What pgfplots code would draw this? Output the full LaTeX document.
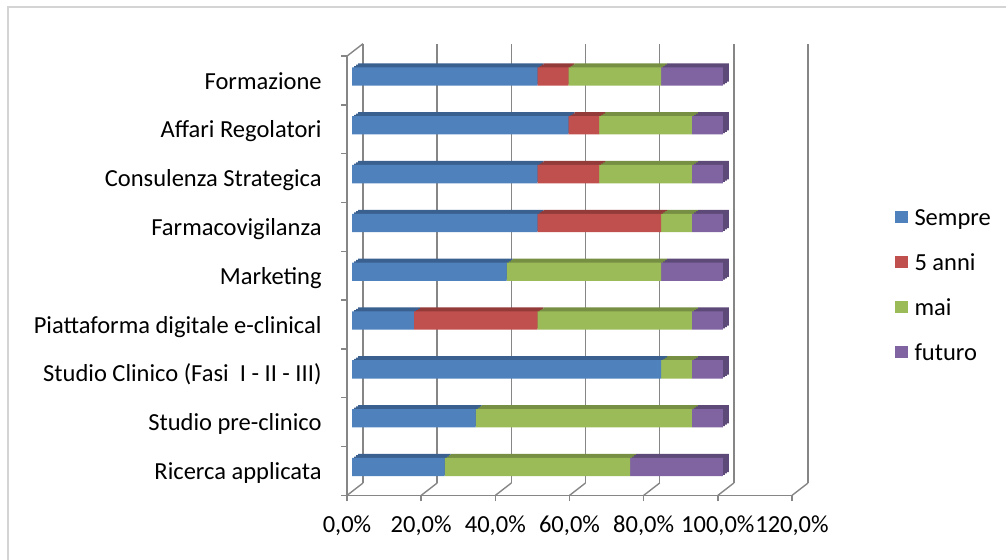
\documentclass[border=0pt]{standalone}
\usepackage{pgfplots}
\pgfplotsset{compat=1.18}
\usepackage{pgfplotstable}
\usepackage{fontspec}
\setmainfont{Carlito}

\definecolor{cblue}{HTML}{4F81BD}
\definecolor{cbluet}{HTML}{3A6090}
\definecolor{cred}{HTML}{C0504D}
\definecolor{credt}{HTML}{923B39}
\definecolor{cgreen}{HTML}{9BBB59}
\definecolor{cgreent}{HTML}{768F43}
\definecolor{cpurple}{HTML}{8064A2}
\definecolor{cpurplet}{HTML}{5E4A78}
\definecolor{axgray}{HTML}{868686}
\definecolor{framegray}{HTML}{D4D4D4}

% y: 0 = Ricerca applicata (bottom) ... 8 = Formazione (top)
\pgfplotstableread{
y sempre anni mai futuro
0 0.25   0      0.5    0.25
1 0.3333 0      0.5833 0.0833
2 0.8333 0      0.0833 0.0833
3 0.1667 0.3333 0.4167 0.0833
4 0.4167 0      0.4167 0.1667
5 0.5    0.3333 0.0833 0.0833
6 0.5    0.1667 0.25   0.0833
7 0.5833 0.0833 0.25   0.0833
8 0.5    0.0833 0.25   0.1667
}\data

\newcommand{\lblfont}{\fontsize{12.25}{14.7}\selectfont}

\pgfplotsset{
  base/.style={scale only axis, width=222.5pt, height=219.65pt,
    xmin=0, xmax=1.2, ymin=-0.5, ymax=8.5, anchor=south west},
  depth/.style={base, hide axis, xbar stacked, bar width=9.15pt},
}

\begin{document}
\begin{tikzpicture}
\useasboundingbox (0,0) rectangle (503pt,279.5pt);
\draw[framegray, line width=0.8pt] (4pt,-1pt) -- (4pt,276pt) -- (504pt,276pt);

% back wall grid
\begin{axis}[base, at={(181.5pt,38pt)}, axis line style={draw=none},
  xtick={0,0.2,0.4,0.6,0.8,1,1.2}, xticklabels={}, ytick=\empty,
  major tick length=0pt, xmajorgrids, grid style={axgray, line width=0.7pt}]
\end{axis}

% front plane: axes, ticks, labels, floor
\begin{axis}[base, at={(173.5pt,31.8pt)}, clip=false,
  axis x line*=bottom, axis y line*=left,
  axis line style={axgray, line width=0.7pt},
  xtick={0,0.2,0.4,0.6,0.8,1,1.2},
  xticklabels={{0,0\%},{20,0\%},{40,0\%},{60,0\%},{80,0\%},{100,0\%},{120,0\%}},
  xtick align=outside, major tick length=3pt,
  x tick style={axgray, line width=0.7pt},
  ytick={0,1,2,3,4,5,6,7,8},
  yticklabels={Ricerca applicata, Studio pre-clinico, Studio Clinico (Fasi \ I - II - III), Piattaforma digitale e-clinical, Marketing, Farmacovigilanza, Consulenza Strategica, Affari Regolatori, Formazione\hspace{0.226em}},
  y tick style={draw=none},
  ticklabel style={font=\lblfont, text=black},
  xticklabel style={anchor=base, yshift=-15.65pt},
  yticklabel style={anchor=base east, inner sep=0pt, xshift=-12.5pt, yshift=-4.3pt}]
\pgfplotsinvokeforeach{0,0.2,0.4,0.6,0.8,1,1.2}{
  \draw[axgray, line width=0.7pt] (axis cs:#1,-0.5) -- ++(8pt,6.2pt);}
\draw[axgray, line width=0.7pt] (axis cs:0,8.5) -- ++(8pt,6.2pt);
\pgfplotsinvokeforeach{-0.5,0.5,1.5,2.5,3.5,4.5,5.5,6.5,7.5,8.5}{
  \draw[axgray, line width=0.7pt] (axis cs:0,#1) -- ++(-3pt,0pt);}
\end{axis}

% bar depth (top and side faces), drawn back to front
\begin{axis}[depth, at={(179pt,35.8pt)}]
\addplot[fill=cbluet, draw=none] table[x=sempre, y=y]{\data};
\addplot[fill=credt, draw=none] table[x=anni, y=y]{\data};
\addplot[fill=cgreent, draw=none] table[x=mai, y=y]{\data};
\addplot[fill=cpurplet, draw=none] table[x=futuro, y=y]{\data};
\end{axis}
\begin{axis}[depth, at={(178pt,35.13pt)}]
\addplot[fill=cbluet, draw=none] table[x=sempre, y=y]{\data};
\addplot[fill=credt, draw=none] table[x=anni, y=y]{\data};
\addplot[fill=cgreent, draw=none] table[x=mai, y=y]{\data};
\addplot[fill=cpurplet, draw=none] table[x=futuro, y=y]{\data};
\end{axis}
\begin{axis}[depth, at={(177pt,34.47pt)}]
\addplot[fill=cbluet, draw=none] table[x=sempre, y=y]{\data};
\addplot[fill=credt, draw=none] table[x=anni, y=y]{\data};
\addplot[fill=cgreent, draw=none] table[x=mai, y=y]{\data};
\addplot[fill=cpurplet, draw=none] table[x=futuro, y=y]{\data};
\end{axis}

% bar front faces
\begin{axis}[depth, at={(176pt,33.8pt)},
  legend cell align=left,
  legend image code/.code={\fill[#1] (0pt,0.8pt) rectangle (6.4pt,7pt);},
  legend style={at={(1.2202,0.6451)}, anchor=north west, draw=none, fill=none,
    inner sep=0pt, outer sep=0pt, font=\lblfont, row sep=11pt, column sep=3.35pt,
    nodes={inner sep=0pt, outer sep=0pt, text height=8.5pt, text depth=3pt, anchor=base west}}]
\addplot[fill=cblue, draw=none] table[x=sempre, y=y]{\data};
\addplot[fill=cred, draw=none] table[x=anni, y=y]{\data};
\addplot[fill=cgreen, draw=none] table[x=mai, y=y]{\data};
\addplot[fill=cpurple, draw=none] table[x=futuro, y=y]{\data};
\legend{Sempre, 5 anni, mai, futuro}
\end{axis}
\end{tikzpicture}
\end{document}
